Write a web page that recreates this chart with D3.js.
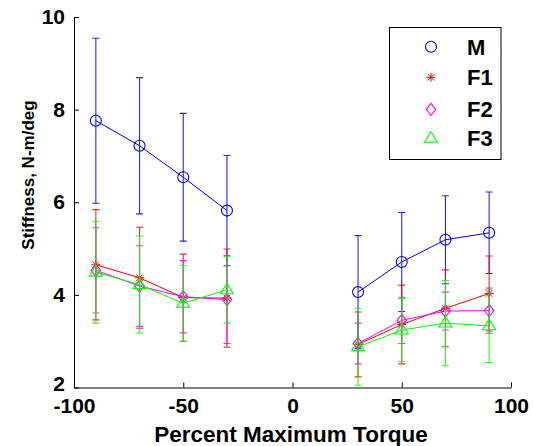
<!DOCTYPE html>
<html><head><meta charset="utf-8">
<script src="https://cdn.jsdelivr.net/npm/d3@7"></script>
<style>
body{margin:0;background:#fff;}
text{font-family:"Liberation Sans",Arial,Helvetica,sans-serif;font-weight:bold;fill:#000;}
</style></head>
<body><svg id="c" width="533" height="446"></svg>
<script>
const xVals = [-90, -70, -50, -30, 30, 50, 70, 90];
const mVals = [7.76, 7.22, 6.54, 5.82, 4.06, 4.71, 5.19, 5.34];
const mErr  = [1.78, 1.47, 1.38, 1.19, 1.22, 1.07, 0.95, 0.88];
const f1Vals = [4.65, 4.37, 3.94, 3.93, 2.93, 3.36, 3.71, 4.03];
const f1Err  = [1.19, 1.09, 0.94, 1.06, 0.70, 0.85, 0.83, 0.81];
const f2Vals = [4.53, 4.19, 3.96, 3.90, 2.95, 3.45, 3.65, 3.66];
const f2Err  = [0.92, 0.87, 0.78, 0.95, 0.44, 0.50, 0.41, 0.49];
const f3Vals = [4.49, 4.22, 3.82, 4.11, 2.88, 3.24, 3.39, 3.33];
const f3Err  = [1.10, 1.05, 0.82, 0.72, 0.83, 0.68, 0.92, 0.79];
const seriesNames = ["M", "F1", "F2", "F3"];
const xTicks = [-100, -50, 0, 50, 100];
const yTicks = [2, 4, 6, 8, 10];
const xTitle = "Percent Maximum Torque";
const yTitle = "Stiffness, N-m/deg";

const series = [
  {name: seriesNames[0], vals: mVals, err: mErr, color: "#0000ff", marker: "circle"},
  {name: seriesNames[1], vals: f1Vals, err: f1Err, color: "#ff0000", marker: "star"},
  {name: seriesNames[2], vals: f2Vals, err: f2Err, color: "#ff00ff", marker: "diamond"},
  {name: seriesNames[3], vals: f3Vals, err: f3Err, color: "#00ff00", marker: "triangle"}
];

const svg = d3.select("#c");
const x = d3.scaleLinear().domain([-100, 100]).range([74, 511]);
const y = d3.scaleLinear().domain([2, 10]).range([387.5, 17]);

function drawMarker(g, type, cx, cy, color) {
  if (type === "circle") {
    g.append("circle").attr("cx", cx).attr("cy", cy).attr("r", 5.5)
      .attr("fill", "none").attr("stroke", color).attr("stroke-width", 1.1);
  } else if (type === "star") {
    const r = 4.5, d = r * 0.72;
    const p = `M${cx - r},${cy}L${cx + r},${cy}M${cx},${cy - r}L${cx},${cy + r}` +
      `M${cx - d},${cy - d}L${cx + d},${cy + d}M${cx - d},${cy + d}L${cx + d},${cy - d}`;
    g.append("path").attr("d", p).attr("stroke", color).attr("stroke-width", 1).attr("fill", "none");
  } else if (type === "diamond") {
    const r = 6;
    g.append("path").attr("d", `M${cx},${cy - r}L${cx + r * 0.8},${cy}L${cx},${cy + r}L${cx - r * 0.8},${cy}Z`)
      .attr("fill", "none").attr("stroke", color).attr("stroke-width", 1.1);
  } else if (type === "triangle") {
    const r = 6.5;
    g.append("path").attr("d", `M${cx},${cy - r}L${cx + r},${cy + r * 0.6}L${cx - r},${cy + r * 0.6}Z`)
      .attr("fill", "none").attr("stroke", color).attr("stroke-width", 1.1);
  }
}

// series
const line = d3.line().x(d => x(d[0])).y(d => y(d[1]));
series.forEach(s => {
  const g = svg.append("g");
  const pts = xVals.map((xv, i) => [xv, s.vals[i], s.err[i]]);
  pts.forEach(p => {
    const cx = x(p[0]), top = y(p[1] + p[2]), bot = y(p[1] - p[2]);
    g.append("path")
      .attr("d", `M${cx},${top}L${cx},${bot}M${cx - 3.5},${top}L${cx + 3.5},${top}M${cx - 3.5},${bot}L${cx + 3.5},${bot}`)
      .attr("stroke", s.color).attr("stroke-width", 1.1).attr("fill", "none").attr("opacity", 0.85);
  });
  [pts.filter(p => p[0] < 0), pts.filter(p => p[0] > 0)].forEach(grp => {
    g.append("path").attr("d", line(grp)).attr("stroke", s.color).attr("stroke-width", 1).attr("fill", "none");
  });
  pts.forEach(p => drawMarker(g, s.marker, x(p[0]), y(p[1]), s.color));
});

// axes
const xAxis = d3.axisBottom(x).tickValues(xTicks).tickSizeInner(-5).tickSizeOuter(0).tickPadding(11)
  .tickFormat(d => String(d));
const yAxis = d3.axisLeft(y).tickValues(yTicks).tickSizeInner(-5).tickSizeOuter(0).tickPadding(9)
  .tickFormat(d => String(d));
const gx = svg.append("g").attr("transform", "translate(0,387.5)").call(xAxis);
const gy = svg.append("g").attr("transform", "translate(74,0)").call(yAxis);
[gx, gy].forEach(g => {
  g.selectAll("path,line").attr("stroke", "#000").attr("stroke-width", 1);
  g.selectAll("text").style("font-size", "21px").attr("fill", "#000")
    .style("font-family", '"Liberation Sans",Arial,sans-serif').style("font-weight", "bold");
});
gy.selectAll(".tick text").filter(d => d === 2).attr("dy", "0.12em");

// titles
svg.append("text").attr("x", 291).attr("y", 442).attr("text-anchor", "middle")
  .style("font-size", "22.5px").text(xTitle);
svg.append("text").attr("transform", "translate(34,175) rotate(-90)").attr("text-anchor", "middle")
  .style("font-size", "17px").text(yTitle);

// legend
const lg = svg.append("g");
lg.append("rect").attr("x", 389.5).attr("y", 27.5).attr("width", 111.5).attr("height", 132)
  .attr("fill", "#fff").attr("stroke", "#000").attr("stroke-width", 1);
const rowY = [46.7, 77.3, 109.3, 138.3];
series.forEach((s, i) => {
  drawMarker(lg, s.marker, 431, rowY[i], s.color);
  lg.append("text").attr("x", 467).attr("y", rowY[i]).attr("dy", "0.36em")
    .style("font-size", "22px").text(s.name);
});
</script></body></html>
